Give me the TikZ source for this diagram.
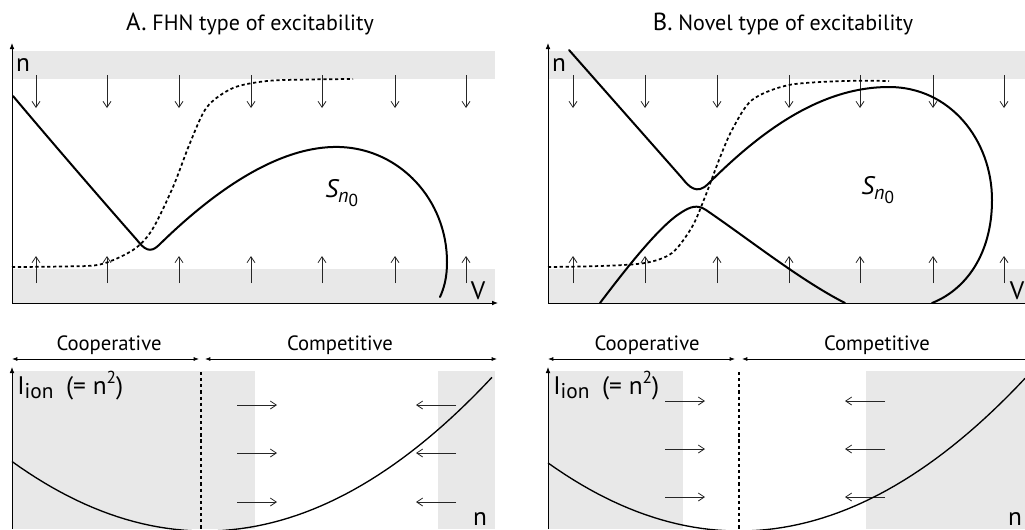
\documentclass[tikz,border=0pt]{standalone}
\usepackage{fontspec}
\setmainfont{PT Sans}
\usetikzlibrary{arrows.meta}
\definecolor{bandgray}{RGB}{232,232,232}
\newcommand{\snought}{{\itshape S\raisebox{-0.4ex}{\fontsize{15}{15}\selectfont n\raisebox{-0.4ex}{\upshape\fontsize{13}{13}\selectfont 0}}}}
\newcommand{\ionlabel}{I\raisebox{-0.35ex}{\fontsize{16}{16}\selectfont ion}\hspace{0.5em}(= n\raisebox{0.85ex}{\fontsize{13}{13}\selectfont 2})}

\begin{document}
\begin{tikzpicture}[
    x=0.75pt, y=-0.75pt,
    band/.style={fill=bandgray, draw=none},
    curve/.style={line width=1.5pt, line cap=round},
    sigm/.style={line width=1.3pt, dash pattern=on 2.4pt off 2pt},
    divider/.style={line width=0.9pt, dash pattern=on 2.4pt off 2.2pt},
    axis/.style={line width=0.6pt},
    flowarrow/.style={line width=0.6pt, black!85, -{Straight Barb[length=4.5pt,width=6pt]}},
    span/.style={line width=0.6pt, {Latex[length=4pt,width=3pt]}-{Latex[length=4pt,width=3pt]}},
    lab/.style={font=\fontsize{19}{21}\selectfont, inner sep=0pt},
    ttl/.style={font=\fontsize{16.5}{19}\selectfont, inner sep=0pt},
    reg/.style={font=\fontsize{15.5}{18}\selectfont, inner sep=0pt},
    >={Latex[length=4.5pt,width=3.5pt]}
]
\useasboundingbox (0,0) rectangle (1025,529);

% ---- A: phase plane
\fill[band] (12,51) rectangle (495,79);
\fill[band] (12,269) rectangle (495,303);
\foreach \x in {36,107,179,251,322,395,466} {
    \draw[flowarrow] (\x,75) -- (\x,108);
    \draw[flowarrow] (\x,283) -- (\x,256);
}
\draw[sigm] plot[smooth] coordinates {(12,267) (60,266.5) (100,264.5) (133,250) (152,230)
    (173,187) (190,143) (207,107) (233,88) (267,81) (310,79.5) (353,79)};
\draw[curve] (13,96) .. controls (50,140) and (100,198) .. (137,240) .. controls (144,249) and (150,254) .. (159,245)
    .. controls (215,190) and (280,145) .. (340,147)
    .. controls (400,149) and (447,200) .. (447,262)
    .. controls (447,278) and (444,288) .. (440,297);
\draw[axis,<->] (12,43) |- (498,303);

\node[ttl] (titleA) at (250,24) {{\fontsize{18.5}{19}\selectfont A.} FHN type of excitability};
\node[lab, anchor=base] (nA) at (23,71) {n};
\node[lab, anchor=base] (vA) at (478,299) {V};
\node[lab, anchor=base west] (snA) at (325,197) {\snought};

% ---- B: phase plane
\fill[band] (548,51) rectangle (1025,79);
\fill[band] (548,269) rectangle (1025,303);
\foreach \x in {573,645,717,789,860,933,1004} {
    \draw[flowarrow] (\x,75) -- (\x,108);
    \draw[flowarrow] (\x,283) -- (\x,256);
}
\draw[sigm] plot[smooth] coordinates {(548,267) (600,266) (645,263) (672,253) (692,227)
    (705,197) (719,160) (732,130) (752,100) (789,85) (845,81) (889,81)};
\draw[curve] (569,50) -- (682,178) .. controls (689,187) and (697,195) .. (708,184)
    .. controls (760,132) and (820,87) .. (889,87)
    .. controls (950,87) and (992,140) .. (992,200)
    .. controls (992,255) and (965,290) .. (932,303);
\draw[curve] (600,303) .. controls (625,270) and (660,225) .. (682,212)
    .. controls (690,207) and (697,204) .. (706,210)
    .. controls (750,240) and (800,280) .. (845,303);
\draw[axis,<-] (548,43) |- (1025,303);

\node[ttl] (titleB) at (783,24) {{\fontsize{18.5}{19}\selectfont B.} Novel type of excitability};
\node[lab, anchor=base] (nB) at (559,71) {n};
\node[lab, anchor=base] (vB) at (1017,299) {V};
\node[lab, anchor=base west] (snB) at (861,194) {\snought};

% ---- A: current vs n
\fill[band] (12,371) rectangle (255,529);
\fill[band] (438,371) rectangle (495,529);
\draw[span] (12,359) -- (199,359);
\draw[span] (205,359) -- (497,359);
\node[reg, anchor=base] (coopA) at (109,350) {Cooperative};
\node[reg, anchor=base] (compA) at (340,350) {Competitive};
\draw[divider] (201,372) -- (201,529);
\foreach \y in {405,453,502} {
    \draw[flowarrow] (237,\y) -- (277,\y);
    \draw[flowarrow] (456,\y) -- (416,\y);
}
\draw[line width=1pt] plot[domain=12:492, samples=60] (\x,{531-(0.0432*(\x-205))^2});
\draw[axis,->] (12,529) -- (12,367);
\node[lab, anchor=base west] (ionA) at (17,394) {\ionlabel};
\node[lab, anchor=base] (nbA) at (480,525) {n};

% ---- B: current vs n
\fill[band] (548,371) rectangle (683,529);
\fill[band] (866,371) rectangle (1025,529);
\draw[span] (548,359) -- (735,359);
\draw[span,{Latex[length=4pt,width=3pt]}-] (742,359) -- (1025,359);
\node[reg, anchor=base] (coopB) at (647,350) {Cooperative};
\node[reg, anchor=base] (compB) at (877,350) {Competitive};
\draw[divider] (739,372) -- (739,529);
\foreach \y in {401,449,497} {
    \draw[flowarrow] (665,\y) -- (705,\y);
    \draw[flowarrow] (885,\y) -- (845,\y);
}
\draw[line width=1pt] plot[domain=548:1025, samples=60] (\x,{531-(0.0432*(\x-739))^2});
\draw[axis,->] (548,529) -- (548,367);
\node[lab, anchor=base west] (ionB) at (553,394) {\ionlabel};
\node[lab, anchor=base] (nbB) at (1015,525) {n};
\end{tikzpicture}
\end{document}
